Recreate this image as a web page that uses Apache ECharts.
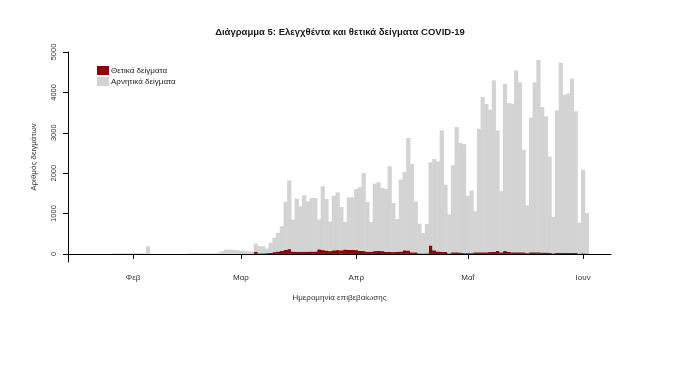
<!DOCTYPE html>
<html>
<head>
<meta charset="utf-8">
<script src="https://cdn.jsdelivr.net/npm/echarts@6/dist/echarts.min.js"></script>
<style>html,body{margin:0;padding:0;background:#fff}#c{width:680px;height:368px}</style>
</head>
<body>
<div id="c"></div>
<script>
// Daily tested samples (total bar height), 2020-01-15 .. 2020-06-08
const totalJanFeb = [0,0,0,0,0,0,0,0,0,0,0,0, 15,15,15,15,15,15,15,15, 15,190, 0,0,0,0,0,0,0,0,0,0, 15,15,15,15,15,15,15,15, 30,66,107,107,100,90];
const totalMar = [80,75,60,60,255,190,190,130,280,400,520,685,1290,1822,851,1368,1180,1450,1300,1385,1385,851,1675,1360,800,1441,1524,1160,790,1400,1401];
const totalApr = [1607,1649,2004,1286,790,1740,1774,1633,1608,2170,1260,865,1840,2030,2870,2226,1300,749,519,740,2270,2350,2290,3060,1715,980,2194,3140,2750,2720];
const totalMay = [1440,1570,1060,3100,3885,3710,3570,4300,3060,1555,4215,3740,3720,4545,4250,2580,1200,3381,4250,4800,3640,3406,2410,920,3555,4735,3940,3970,4335,3530,775];
const totalJun = [2087,1013,0,0,0,0,0,0];

// Positive samples
const posJanFeb = [0,0,0,0,0,0,0,0,0,0,0,0, 0,0,0,0,0,0,0,0, 0,0, 0,0,0,0,0,0,0,0,0,0, 0,0,0,0,0,0,0,0, 0,0,1,2,1,0];
const posMar = [3,2,2,5,57,15,15,20,25,45,60,75,100,120,60,55,55,55,55,60,60,115,95,85,70,90,95,90,110,105,100];
const posApr = [95,75,70,57,55,70,75,70,55,50,45,55,60,90,85,40,40,15,12,15,210,90,60,55,50,15,40,40,35,20];
const posMay = [20,20,40,40,40,40,45,50,74,40,74,50,40,40,40,40,20,40,40,40,35,35,30,15,30,30,30,25,25,25,10];
const posJun = [15,10,0,0,0,0,0,0];

const monthTickLabels = {'02':'Φεβ','03':'Μαρ','04':'Απρ','05':'Μαΐ','06':'Ιουν'};
const yTickValues = [0,1000,2000,3000,4000,5000];

// categories: days from 2020-01-15 to 2020-06-08
const dates = [];
{
  const d = new Date(Date.UTC(2020,0,15));
  const end = new Date(Date.UTC(2020,5,8));
  while (d <= end) {
    dates.push(d.toISOString().slice(0,10));
    d.setUTCDate(d.getUTCDate()+1);
  }
}
const totals = [].concat(totalJanFeb,totalMar,totalApr,totalMay,totalJun);
const positives = [].concat(posJanFeb,posMar,posApr,posMay,posJun);
const negatives = totals.map((t,i)=>Math.max(0,t-positives[i]));

const isMonthStart = (i,v)=> v.slice(8,10)==='01' && monthTickLabels[v.slice(5,7)]!==undefined;
const monthStartIdx = dates.map((v,i)=>isMonthStart(i,v)?i:-1).filter(i=>i>=0);
const FONT = 'Liberation Sans';

const chart = echarts.init(document.getElementById('c'), null, {renderer:'canvas'});
chart.setOption({
  animation:false,
  backgroundColor:'#fff',
  textStyle:{fontFamily:FONT},
  title:{
    text:'Διάγραμμα 5: Ελεγχθέντα και θετικά δείγματα COVID-19',
    left:'center', top:22,
    textStyle:{fontFamily:FONT,fontSize:9.5,fontWeight:'bold',color:'#1a1a1a'}
  },
  legend:{
    orient:'vertical', left:97, top:66, padding:0,
    itemWidth:12, itemHeight:9, itemGap:2, icon:'rect',
    textStyle:{fontFamily:FONT,fontSize:8,color:'#222',padding:[0,0,0,-3]},
    data:['Θετικά δείγματα','Αρνητικά δείγματα']
  },
  grid:{left:68,right:69,top:52,bottom:106,containLabel:false},
  xAxis:{
    type:'category', data:dates, boundaryGap:true,
    axisLine:{show:true,lineStyle:{color:'#000',width:1}},
    axisTick:{show:true,alignWithLabel:true,customValues:monthStartIdx,length:5,lineStyle:{color:'#000'}},
    axisLabel:{interval:isMonthStart,formatter:v=>monthTickLabels[v.slice(5,7)]||'',margin:12,fontSize:8,color:'#333',fontFamily:FONT},
    splitLine:{show:false},
    name:'Ημερομηνία επιβεβαίωσης', nameLocation:'middle', nameGap:32,
    nameTextStyle:{fontSize:8,color:'#333',fontFamily:FONT}
  },
  yAxis:{
    type:'value', min:-200, max:5000,
    axisLine:{show:true,lineStyle:{color:'#000',width:1}},
    axisTick:{show:true,customValues:yTickValues,length:5,lineStyle:{color:'#000'}},
    axisLabel:{customValues:yTickValues,formatter:v=>String(v),rotate:90,margin:10,fontSize:7.5,color:'#333',fontFamily:FONT},
    splitLine:{show:false},
    name:'Αριθμός δειγμάτων', nameLocation:'middle', nameGap:30, nameRotate:90,
    nameTextStyle:{fontSize:8,color:'#333',fontFamily:FONT}
  },
  series:[
    {name:'Θετικά δείγματα',type:'bar',stack:'s',data:positives,barWidth:4.2,itemStyle:{color:'#8b0000'},emphasis:{disabled:true}},
    {name:'Αρνητικά δείγματα',type:'bar',stack:'s',data:negatives,barWidth:4.2,itemStyle:{color:'#d3d3d3'},emphasis:{disabled:true}}
  ]
});
</script>
</body>
</html>
